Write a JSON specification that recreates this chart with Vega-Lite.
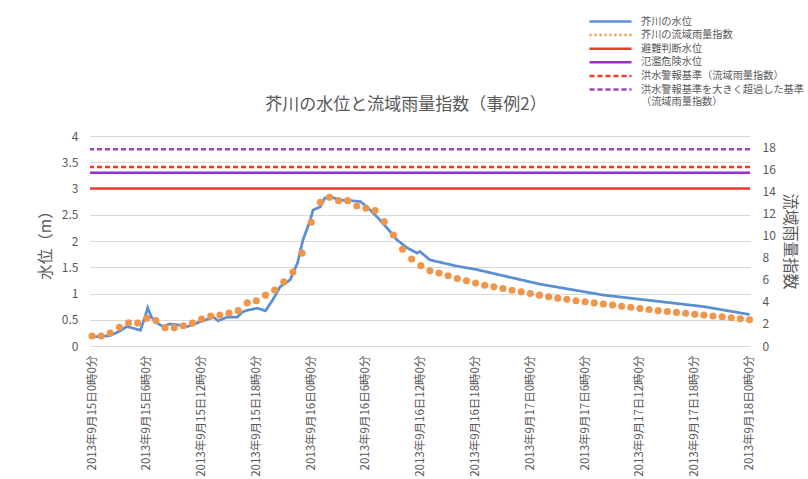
{
  "$schema": "https://vega.github.io/schema/vega-lite/v6.json",
  "width": 660,
  "height": 210,
  "autosize": "none",
  "padding": {"left": 90, "top": 136, "right": 58, "bottom": 133},
  "background": "white",
  "title": {
    "text": "芥川の水位と流域雨量指数（事例2）",
    "fontSize": 17,
    "color": "#595959",
    "fontWeight": "normal",
    "font": "Noto Sans CJK JP",
    "anchor": "middle",
    "frame": "group",
    "offset": 21,
    "dy": 120,
    "dx": -14
  },
  "config": {
    "view": {"stroke": null},
    "font": "Noto Sans CJK JP",
    "axis": {
      "labelColor": "#595959",
      "titleColor": "#595959",
      "titleFontWeight": "normal",
      "labelFont": "Noto Sans CJK JP",
      "titleFont": "Noto Sans CJK JP",
      "gridColor": "#D9D9D9",
      "ticks": false,
      "tickSize": 0
    }
  },
  "datasets": {
    "wl": [
      {"t": 0, "v": 0.18}, {"t": 1, "v": 0.18}, {"t": 2, "v": 0.2}, {"t": 3, "v": 0.28},
      {"t": 3.8, "v": 0.37}, {"t": 4.5, "v": 0.34}, {"t": 5.3, "v": 0.3}, {"t": 5.8, "v": 0.55},
      {"t": 6.1, "v": 0.73}, {"t": 6.5, "v": 0.55}, {"t": 7.1, "v": 0.44}, {"t": 7.8, "v": 0.37},
      {"t": 8.5, "v": 0.42}, {"t": 9.5, "v": 0.4}, {"t": 10.4, "v": 0.37}, {"t": 11, "v": 0.4},
      {"t": 11.8, "v": 0.46}, {"t": 12.5, "v": 0.5}, {"t": 13.3, "v": 0.55}, {"t": 13.8, "v": 0.48},
      {"t": 14.8, "v": 0.55}, {"t": 15.9, "v": 0.55}, {"t": 16.5, "v": 0.65}, {"t": 17, "v": 0.68},
      {"t": 18.1, "v": 0.72}, {"t": 19, "v": 0.67}, {"t": 19.8, "v": 0.88}, {"t": 20.6, "v": 1.13},
      {"t": 21.7, "v": 1.26}, {"t": 22.5, "v": 1.58}, {"t": 23.1, "v": 2.02}, {"t": 23.9, "v": 2.4},
      {"t": 24.2, "v": 2.59}, {"t": 25, "v": 2.65}, {"t": 25.5, "v": 2.82}, {"t": 26.1, "v": 2.84},
      {"t": 27.2, "v": 2.78}, {"t": 28.3, "v": 2.77}, {"t": 29.4, "v": 2.75}, {"t": 30.1, "v": 2.65},
      {"t": 31.2, "v": 2.46}, {"t": 32.3, "v": 2.25}, {"t": 33.4, "v": 2.02}, {"t": 34.5, "v": 1.87},
      {"t": 35.6, "v": 1.77}, {"t": 35.9, "v": 1.8}, {"t": 37, "v": 1.64}, {"t": 38, "v": 1.6},
      {"t": 39, "v": 1.56}, {"t": 40, "v": 1.52}, {"t": 41, "v": 1.49}, {"t": 42, "v": 1.46},
      {"t": 43, "v": 1.42}, {"t": 44, "v": 1.38}, {"t": 45, "v": 1.34}, {"t": 46, "v": 1.3},
      {"t": 47, "v": 1.26}, {"t": 48, "v": 1.22}, {"t": 49, "v": 1.18}, {"t": 50, "v": 1.15},
      {"t": 51, "v": 1.12}, {"t": 52, "v": 1.09}, {"t": 53, "v": 1.06}, {"t": 54, "v": 1.03},
      {"t": 55, "v": 1.0}, {"t": 56, "v": 0.97}, {"t": 57, "v": 0.95}, {"t": 58, "v": 0.93},
      {"t": 59, "v": 0.91}, {"t": 60, "v": 0.89}, {"t": 61, "v": 0.87}, {"t": 62, "v": 0.85},
      {"t": 63, "v": 0.83}, {"t": 64, "v": 0.81}, {"t": 65, "v": 0.79}, {"t": 66, "v": 0.77},
      {"t": 67, "v": 0.75}, {"t": 68, "v": 0.72}, {"t": 69, "v": 0.69}, {"t": 70, "v": 0.66},
      {"t": 71, "v": 0.63}, {"t": 72, "v": 0.6}
    ],
    "rain": [
      {"t": 0, "v": 0.9}, {"t": 1, "v": 0.9}, {"t": 2, "v": 1.17}, {"t": 3, "v": 1.7},
      {"t": 4, "v": 2.1}, {"t": 5, "v": 2.07}, {"t": 6, "v": 2.5}, {"t": 7, "v": 2.3},
      {"t": 8, "v": 1.66}, {"t": 9, "v": 1.66}, {"t": 10, "v": 1.84}, {"t": 11, "v": 2.07},
      {"t": 12, "v": 2.43}, {"t": 13, "v": 2.7}, {"t": 14, "v": 2.8}, {"t": 15, "v": 2.98},
      {"t": 16, "v": 3.2}, {"t": 17, "v": 3.9}, {"t": 18, "v": 4.1}, {"t": 19, "v": 4.6},
      {"t": 20, "v": 5.07}, {"t": 21, "v": 5.8}, {"t": 22, "v": 6.7}, {"t": 23, "v": 8.4},
      {"t": 24, "v": 11.2}, {"t": 25, "v": 13.0}, {"t": 26, "v": 13.45}, {"t": 27, "v": 13.15},
      {"t": 28, "v": 13.15}, {"t": 29, "v": 12.67}, {"t": 30, "v": 12.46}, {"t": 31, "v": 12.25},
      {"t": 32, "v": 11.25}, {"t": 33, "v": 10.04}, {"t": 34, "v": 8.75}, {"t": 35, "v": 7.87},
      {"t": 36, "v": 7.27}, {"t": 37, "v": 6.8}, {"t": 38, "v": 6.6}, {"t": 39, "v": 6.35},
      {"t": 40, "v": 6.1}, {"t": 41, "v": 5.9}, {"t": 42, "v": 5.7}, {"t": 43, "v": 5.5},
      {"t": 44, "v": 5.35}, {"t": 45, "v": 5.2}, {"t": 46, "v": 5.05}, {"t": 47, "v": 4.9},
      {"t": 48, "v": 4.75}, {"t": 49, "v": 4.6}, {"t": 50, "v": 4.45}, {"t": 51, "v": 4.33},
      {"t": 52, "v": 4.22}, {"t": 53, "v": 4.1}, {"t": 54, "v": 4.0}, {"t": 55, "v": 3.9},
      {"t": 56, "v": 3.8}, {"t": 57, "v": 3.7}, {"t": 58, "v": 3.6}, {"t": 59, "v": 3.5},
      {"t": 60, "v": 3.4}, {"t": 61, "v": 3.3}, {"t": 62, "v": 3.2}, {"t": 63, "v": 3.12},
      {"t": 64, "v": 3.04}, {"t": 65, "v": 2.96}, {"t": 66, "v": 2.88}, {"t": 67, "v": 2.8},
      {"t": 68, "v": 2.72}, {"t": 69, "v": 2.64}, {"t": 70, "v": 2.56}, {"t": 71, "v": 2.46},
      {"t": 72, "v": 2.38}
    ],
    "thL": [
      {"series": "避難判断水位", "v": 3.0},
      {"series": "氾濫危険水位", "v": 3.3}
    ],
    "thR": [
      {"series": "洪水警報基準（流域雨量指数）", "v": 16.2},
      {"series": "洪水警報基準を大きく超過した基準（流域雨量指数）", "v": 17.8}
    ]
  },
  "layer": [
    {
      "layer": [
        {
          "data": {"name": "wl"},
          "transform": [{"calculate": "'芥川の水位'", "as": "series"}],
          "mark": {"type": "line", "strokeWidth": 2.75, "interpolate": "linear"},
          "encoding": {
            "x": {
              "field": "t", "type": "quantitative",
              "scale": {"domain": [-0.22, 72.05], "nice": false, "zero": false},
              "axis": {
                "title": null, "values": [0,3,6,9,12,15,18,21,24,27,30,33,36,39,42,45,48,51,54,57,60,63,66,69,72],
                "labelExpr": "'2013年9月' + (15 + floor(datum.value / 24)) + '日' + (datum.value % 24) + '時0分'",
                "labelAngle": 270, "labelAlign": "right", "labelBaseline": "middle",
                "labelFontSize": 11.5, "labelPadding": 9, "labelOverlap": false, "labelFlush": false, "labelBound": false,
                "grid": false, "domain": true, "domainColor": "#D9D9D9"
              }
            },
            "y": {
              "field": "v", "type": "quantitative",
              "scale": {"domain": [0, 4], "nice": false},
              "axis": {
                "title": "水位（m）", "orient": "left", "values": [0,0.5,1,1.5,2,2.5,3,3.5,4], "format": "~g",
                "labelFontSize": 12, "labelPadding": 12, "titleFontSize": 15.5, "titlePadding": 8,
                "grid": true, "domain": false
              }
            },
            "color": {
              "field": "series", "type": "nominal",
              "scale": {
                "domain": ["芥川の水位", "芥川の流域雨量指数", "避難判断水位", "氾濫危険水位", "洪水警報基準（流域雨量指数）", "洪水警報基準を大きく超過した基準（流域雨量指数）"],
                "range": ["#5B8FD3", "#F0954A", "#EE3B2B", "#9A2EC9", "#EE3B2B", "#A040C6"]
              },
              "legend": {
                "orient": "none", "legendX": 514, "legendY": -121, "title": null, "padding": 0,
                "symbolType": "M-4.2,0H4.2", "symbolSize": 100, "symbolStrokeWidth": 2.5,
                "labelFont": "Noto Sans CJK JP", "labelFontSize": 10.2, "labelColor": "#595959",
                "labelOffset": 24, "labelLimit": 400, "rowPadding": 1.6,
                "labelExpr": "datum.label == '洪水警報基準を大きく超過した基準（流域雨量指数）' ? ['洪水警報基準を大きく超過した基準', '（流域雨量指数）'] : datum.label"
              }
            },
            "strokeDash": {
              "field": "series", "type": "nominal",
              "scale": {
                "domain": ["芥川の水位", "芥川の流域雨量指数", "避難判断水位", "氾濫危険水位", "洪水警報基準（流域雨量指数）", "洪水警報基準を大きく超過した基準（流域雨量指数）"],
                "range": [[1, 0], [2, 3], [1, 0], [1, 0], [5, 3], [5, 3]]
              }
            }
          }
        },
        {
          "data": {"name": "thL"},
          "mark": {"type": "rule", "strokeWidth": 2.5},
          "encoding": {
            "y": {
              "field": "v", "type": "quantitative",
              "scale": {"domain": [0, 4], "nice": false},
              "axis": {
                "title": "水位（m）", "orient": "left", "values": [0,0.5,1,1.5,2,2.5,3,3.5,4], "format": "~g",
                "labelFontSize": 12, "labelPadding": 12, "titleFontSize": 15.5, "titlePadding": 8,
                "grid": true, "domain": false
              }
            },
            "color": {"field": "series", "type": "nominal"},
            "strokeDash": {"field": "series", "type": "nominal"}
          }
        }
      ]
    },
    {
      "layer": [
        {
          "data": {"name": "rain"},
          "mark": {"type": "point", "filled": true, "size": 50, "opacity": 1, "color": "#F0954A"},
          "encoding": {
            "x": {
              "field": "t", "type": "quantitative",
              "scale": {"domain": [-0.22, 72.05], "nice": false, "zero": false}
            },
            "y": {
              "field": "v", "type": "quantitative",
              "scale": {"domain": [0, 19], "nice": false},
              "axis": {
                "title": "流域雨量指数", "orient": "right", "values": [0,2,4,6,8,10,12,14,16,18],
                "labelFontSize": 12, "labelPadding": 12, "titleFontSize": 16, "titlePadding": 6, "titleAngle": 90,
                "grid": false, "domain": false
              }
            }
          }
        },
        {
          "data": {"name": "thR"},
          "mark": {"type": "rule", "strokeWidth": 2.5},
          "encoding": {
            "y": {
              "field": "v", "type": "quantitative",
              "scale": {"domain": [0, 19], "nice": false},
              "axis": {
                "title": "流域雨量指数", "orient": "right", "values": [0,2,4,6,8,10,12,14,16,18],
                "labelFontSize": 12, "labelPadding": 12, "titleFontSize": 16, "titlePadding": 6, "titleAngle": 90,
                "grid": false, "domain": false
              }
            },
            "color": {"field": "series", "type": "nominal"},
            "strokeDash": {"field": "series", "type": "nominal"}
          }
        }
      ]
    }
  ],
  "resolve": {"scale": {"y": "independent"}, "axis": {"y": "independent"}}
}
